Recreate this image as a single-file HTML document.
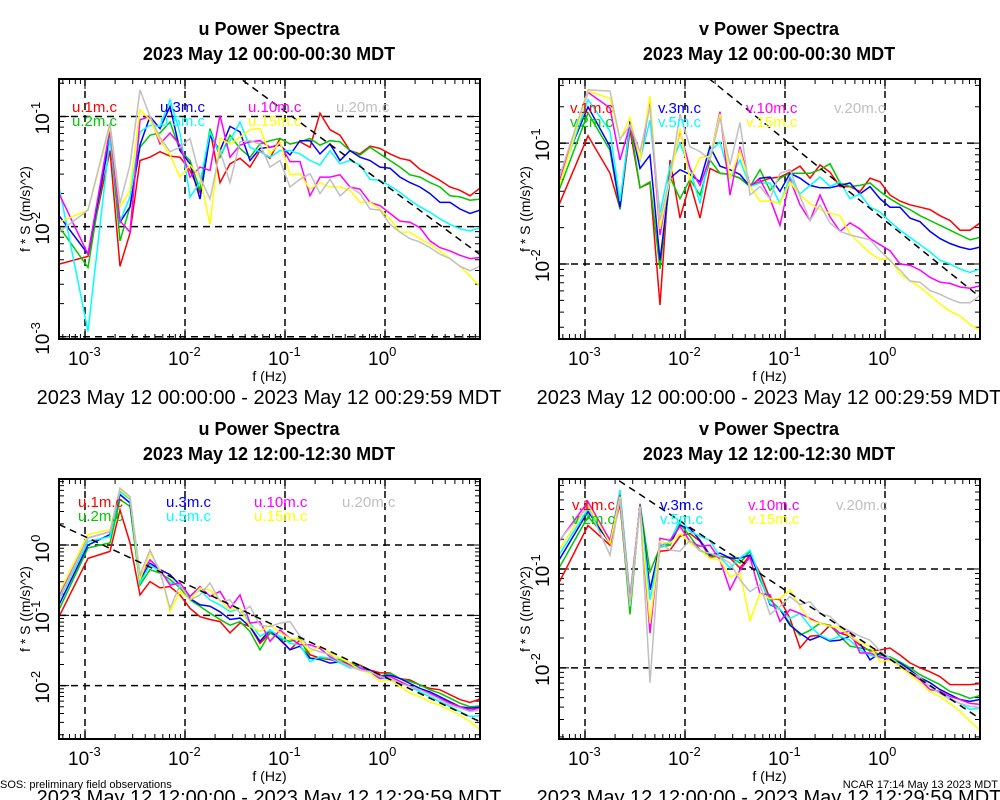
<!DOCTYPE html>
<html><head><meta charset="utf-8"><style>
html,body{margin:0;padding:0;background:#fff;}
svg{display:block;font-family:"Liberation Sans",sans-serif;}
</style></head><body>
<svg id="chart" width="1000" height="800" viewBox="0 0 1000 800" xmlns="http://www.w3.org/2000/svg">
<rect x="0" y="0" width="1000" height="800" fill="#fff"/>
</svg>
<script>
// log10 frequency (Hz) sample points shared by all panels
const logFreq = [-3.26,-2.97,-2.75,-2.65,-2.55,-2.45,-2.35,-2.25,-2.15,-2.05,-1.95,-1.85,-1.75,-1.65,-1.55,-1.45,-1.35,-1.25,-1.15,-1.05,-0.95,-0.85,-0.75,-0.65,-0.55,-0.45,-0.35,-0.25,-0.15,-0.05,0.05,0.15,0.25,0.35,0.45,0.55,0.65,0.75,0.85,0.95];
const seriesNamesU = ["u.1m.c","u.2m.c","u.3m.c","u.5m.c","u.10m.c","u.15m.c","u.20m.c"];
const seriesNamesV = ["v.1m.c","v.2m.c","v.3m.c","v.5m.c","v.10m.c","v.15m.c","v.20m.c"];
const xTickLabels = ["-3","-2","-1","0"];
// values are log10(f*S) in (m/s)^2
// Panel A: u 00:00-00:30
const uA1 = [-2.34,-2.27,-1.31,-2.36,-2.06,-1.40,-1.37,-1.32,-1.36,-1.37,-1.49,-1.69,-1.12,-1.60,-1.43,-1.38,-1.46,-1.31,-1.38,-1.20,-1.25,-1.23,-1.28,-0.97,-1.12,-1.17,-1.31,-1.34,-1.27,-1.29,-1.34,-1.38,-1.40,-1.48,-1.53,-1.58,-1.64,-1.67,-1.72,-1.65];
const uA2 = [-2.00,-2.37,-1.15,-2.13,-1.82,-1.28,-1.17,-1.15,-1.05,-1.31,-1.40,-1.67,-1.11,-1.37,-1.17,-1.29,-1.37,-1.25,-1.22,-1.20,-1.25,-1.23,-1.20,-1.26,-1.22,-1.23,-1.31,-1.35,-1.28,-1.34,-1.40,-1.46,-1.53,-1.55,-1.60,-1.64,-1.72,-1.73,-1.76,-1.75];
const uA3 = [-1.90,-2.25,-1.19,-1.96,-1.82,-1.26,-1.00,-1.11,-0.91,-1.31,-1.43,-1.75,-1.17,-1.31,-1.09,-1.14,-1.40,-1.29,-1.28,-1.26,-1.35,-1.22,-1.22,-1.34,-1.25,-1.40,-1.31,-1.37,-1.40,-1.46,-1.47,-1.55,-1.60,-1.64,-1.70,-1.78,-1.78,-1.84,-1.88,-1.85];
const uA5 = [-1.64,-2.95,-1.19,-1.95,-1.73,-1.14,-1.08,-1.09,-0.85,-1.15,-1.73,-1.60,-1.14,-1.34,-1.22,-1.05,-1.28,-1.32,-1.37,-1.31,-1.31,-1.34,-1.40,-1.44,-1.31,-1.43,-1.40,-1.44,-1.57,-1.58,-1.63,-1.69,-1.76,-1.82,-1.87,-1.93,-1.98,-2.02,-2.04,-2.01];
const uA10 = [-1.70,-2.25,-1.11,-1.95,-2.05,-1.03,-1.00,-1.25,-1.15,-1.26,-1.55,-1.46,-1.49,-0.99,-1.37,-1.26,-1.23,-1.22,-1.28,-1.25,-1.41,-1.41,-1.72,-1.55,-1.55,-1.53,-1.64,-1.66,-1.78,-1.81,-1.88,-1.95,-1.96,-2.01,-2.13,-2.19,-2.22,-2.26,-2.29,-2.28];
const uA15 = [-1.96,-1.85,-1.09,-1.82,-1.67,-0.94,-1.03,-1.22,-1.35,-1.55,-1.44,-1.55,-1.98,-1.20,-1.25,-1.19,-1.12,-1.11,-1.34,-1.23,-1.53,-1.52,-1.66,-1.60,-1.64,-1.64,-1.67,-1.78,-1.78,-1.84,-1.93,-2.05,-2.05,-2.11,-2.16,-2.22,-2.29,-2.36,-2.45,-2.54];
const uA20 = [-2.05,-1.85,-1.06,-1.79,-1.44,-0.76,-1.00,-1.19,-1.32,-1.28,-1.20,-1.55,-1.75,-1.31,-1.60,-1.23,-1.22,-1.25,-1.46,-1.40,-1.64,-1.57,-1.52,-1.70,-1.57,-1.72,-1.64,-1.70,-1.84,-1.85,-1.98,-2.05,-2.11,-2.14,-2.19,-2.25,-2.29,-2.36,-2.40,-2.36];
// Panel B: v 00:00-00:30
const vB1 = [-1.51,-0.94,-1.25,-1.54,-0.89,-1.37,-1.33,-2.34,-1.14,-1.62,-1.33,-1.62,-1.21,-1.25,-1.26,-1.29,-1.36,-1.32,-1.29,-1.28,-1.24,-1.19,-1.29,-1.18,-1.24,-1.36,-1.36,-1.40,-1.29,-1.32,-1.43,-1.48,-1.51,-1.53,-1.55,-1.60,-1.64,-1.72,-1.72,-1.66];
const vB2 = [-1.39,-0.75,-1.06,-1.55,-0.83,-1.37,-1.32,-2.04,-1.28,-1.46,-1.30,-1.43,-1.14,-1.25,-1.26,-1.29,-1.36,-1.22,-1.39,-1.29,-1.25,-1.25,-1.25,-1.22,-1.17,-1.33,-1.36,-1.35,-1.33,-1.40,-1.46,-1.51,-1.55,-1.60,-1.64,-1.68,-1.72,-1.76,-1.80,-1.78];
const vB3 = [-1.28,-0.70,-1.03,-1.53,-0.82,-1.21,-1.10,-1.97,-1.29,-1.22,-1.26,-1.32,-1.03,-1.19,-1.22,-1.26,-1.36,-1.29,-1.28,-1.40,-1.25,-1.29,-1.35,-1.37,-1.37,-1.35,-1.33,-1.42,-1.36,-1.46,-1.53,-1.53,-1.62,-1.65,-1.73,-1.79,-1.83,-1.86,-1.88,-1.86];
const vB5 = [-1.33,-0.64,-0.90,-1.48,-0.85,-1.14,-0.81,-1.58,-1.19,-1.00,-1.21,-1.50,-1.07,-0.99,-1.29,-1.14,-1.36,-1.33,-1.33,-1.50,-1.28,-1.42,-1.35,-1.28,-1.36,-1.32,-1.46,-1.42,-1.53,-1.57,-1.65,-1.72,-1.78,-1.84,-1.90,-1.97,-2.00,-2.04,-2.07,-2.04];
const vB10 = [-1.32,-0.58,-0.71,-1.14,-0.85,-1.14,-0.67,-1.76,-1.28,-0.90,-1.21,-1.35,-1.12,-0.74,-1.43,-1.03,-1.35,-1.30,-1.46,-1.68,-1.30,-1.51,-1.64,-1.43,-1.61,-1.73,-1.66,-1.71,-1.79,-1.84,-1.89,-2.00,-2.01,-2.05,-2.11,-2.15,-2.16,-2.19,-2.20,-2.18];
const vB15 = [-1.36,-0.57,-0.63,-0.97,-0.79,-1.14,-0.61,-1.71,-1.30,-0.88,-1.30,-1.12,-1.11,-0.76,-1.29,-1.06,-1.36,-1.48,-1.48,-1.50,-1.32,-1.43,-1.50,-1.55,-1.58,-1.60,-1.75,-1.83,-1.91,-1.96,-1.96,-2.08,-2.14,-2.19,-2.26,-2.33,-2.39,-2.43,-2.50,-2.55];
const vB20 = [-1.29,-0.56,-0.57,-0.97,-0.85,-1.07,-0.70,-1.64,-1.28,-0.76,-1.03,-1.07,-1.14,-0.79,-1.18,-0.83,-1.43,-1.36,-1.46,-1.25,-1.22,-1.44,-1.64,-1.51,-1.66,-1.73,-1.76,-1.78,-1.80,-1.89,-1.97,-2.05,-2.14,-2.15,-2.22,-2.25,-2.29,-2.32,-2.32,-2.26];
// Panel C: u 12:00-12:30
const uC1 = [-1.02,-0.19,-0.09,0.50,0.03,-0.71,-0.52,-0.61,-0.59,-0.71,-0.90,-1.02,-1.06,-1.09,-1.25,-1.11,-1.16,-1.40,-1.25,-1.33,-1.49,-1.35,-1.56,-1.61,-1.63,-1.66,-1.68,-1.71,-1.78,-1.82,-1.82,-1.90,-1.92,-1.99,-2.04,-2.06,-2.13,-2.20,-2.24,-2.19];
const uC2 = [-0.92,-0.04,0.03,0.65,0.55,-0.57,-0.35,-0.40,-0.49,-0.61,-0.78,-0.87,-0.97,-1.06,-1.14,-1.09,-1.23,-1.49,-1.25,-1.33,-1.37,-1.33,-1.61,-1.61,-1.61,-1.63,-1.68,-1.73,-1.80,-1.87,-1.82,-1.90,-1.94,-1.99,-2.06,-2.11,-2.18,-2.25,-2.30,-2.29];
const uC3 = [-0.85,0.00,0.15,0.72,0.60,-0.49,-0.26,-0.35,-0.42,-0.57,-0.76,-0.85,-0.87,-0.95,-1.06,-1.04,-1.16,-1.37,-1.21,-1.35,-1.49,-1.44,-1.61,-1.63,-1.68,-1.66,-1.71,-1.73,-1.78,-1.87,-1.85,-1.90,-1.97,-2.04,-2.09,-2.16,-2.23,-2.30,-2.32,-2.31];
const uC5 = [-0.78,0.05,0.12,0.76,0.65,-0.54,-0.28,-0.38,-0.54,-0.57,-0.73,-0.64,-0.78,-0.85,-0.95,-0.90,-1.11,-1.30,-1.21,-1.30,-1.40,-1.42,-1.66,-1.59,-1.61,-1.68,-1.75,-1.73,-1.82,-1.90,-1.90,-1.97,-2.01,-2.09,-2.16,-2.23,-2.30,-2.37,-2.44,-2.43];
const uC10 = [-0.73,0.10,0.19,0.79,0.67,-0.45,-0.21,-0.35,-0.57,-0.54,-0.73,-0.59,-0.73,-0.66,-0.90,-0.71,-1.11,-1.09,-1.37,-1.21,-1.33,-1.42,-1.42,-1.47,-1.59,-1.66,-1.71,-1.75,-1.80,-1.90,-1.87,-1.94,-2.01,-2.06,-2.11,-2.18,-2.25,-2.30,-2.35,-2.32];
const uC15 = [-0.68,0.15,0.22,0.79,0.67,-0.49,-0.11,-0.35,-0.95,-0.66,-0.78,-0.61,-0.64,-0.78,-0.92,-0.90,-1.16,-1.23,-1.14,-1.25,-1.33,-1.35,-1.52,-1.44,-1.54,-1.61,-1.68,-1.78,-1.82,-1.94,-1.92,-2.01,-2.11,-2.16,-2.23,-2.28,-2.35,-2.42,-2.51,-2.63];
const uC20 = [-0.76,0.10,0.19,0.81,0.69,-0.42,-0.07,-0.38,-0.90,-0.57,-0.78,-0.71,-0.54,-0.80,-0.78,-0.97,-0.87,-1.14,-1.16,-1.11,-1.09,-1.30,-1.47,-1.52,-1.56,-1.66,-1.73,-1.78,-1.80,-1.87,-1.90,-1.97,-2.01,-2.06,-2.13,-2.20,-2.28,-2.32,-2.37,-2.35];
// Panel D: v 12:00-12:30
const vD1 = [-1.14,-0.56,-0.76,-0.34,-1.41,-0.35,-1.21,-0.82,-0.81,-0.67,-0.64,-0.72,-0.88,-0.87,-0.89,-0.99,-0.86,-1.04,-1.30,-1.31,-1.50,-1.80,-1.68,-1.67,-1.57,-1.65,-1.68,-1.77,-1.83,-1.82,-1.80,-1.87,-1.95,-2.00,-2.04,-2.09,-2.17,-2.17,-2.17,-2.16];
const vD2 = [-0.99,-0.47,-0.72,-0.30,-1.46,-0.34,-1.03,-0.78,-0.76,-0.54,-0.67,-0.81,-0.86,-0.88,-0.88,-0.94,-0.82,-1.11,-1.31,-1.41,-1.55,-1.67,-1.62,-1.55,-1.57,-1.68,-1.78,-1.80,-1.82,-1.87,-1.89,-1.94,-2.00,-2.07,-2.12,-2.17,-2.24,-2.27,-2.31,-2.28];
const vD3 = [-0.91,-0.42,-0.74,-0.29,-1.35,-0.35,-1.21,-0.76,-0.74,-0.56,-0.59,-0.71,-0.86,-0.84,-0.89,-0.89,-0.86,-1.08,-1.36,-1.41,-1.57,-1.65,-1.72,-1.68,-1.73,-1.72,-1.68,-1.75,-1.92,-1.85,-1.92,-1.95,-2.02,-2.10,-2.15,-2.22,-2.27,-2.32,-2.34,-2.32];
const vD5 = [-0.86,-0.39,-0.72,-0.20,-1.28,-0.37,-1.31,-0.78,-0.72,-0.50,-0.62,-0.67,-0.71,-0.88,-0.99,-0.89,-0.81,-1.08,-1.35,-1.41,-1.50,-1.45,-1.58,-1.67,-1.72,-1.68,-1.72,-1.82,-1.87,-1.90,-1.90,-1.97,-2.04,-2.12,-2.19,-2.26,-2.31,-2.36,-2.42,-2.41];
const vD10 = [-0.72,-0.32,-0.71,-0.25,-1.31,-0.35,-1.65,-0.69,-0.71,-0.57,-0.72,-0.77,-0.76,-0.91,-1.21,-1.01,-0.88,-1.25,-1.26,-1.53,-1.41,-1.45,-1.50,-1.55,-1.58,-1.65,-1.63,-1.85,-1.85,-1.89,-1.92,-1.97,-2.05,-2.12,-2.22,-2.24,-2.29,-2.32,-2.36,-2.37];
const vD15 = [-0.81,-0.35,-0.74,-0.27,-1.35,-0.37,-1.55,-0.72,-0.74,-0.64,-0.74,-0.81,-0.89,-0.91,-1.08,-1.04,-1.52,-1.25,-1.30,-1.30,-1.21,-1.38,-1.52,-1.55,-1.58,-1.60,-1.68,-1.75,-1.78,-1.94,-1.92,-1.99,-2.07,-2.15,-2.24,-2.29,-2.36,-2.44,-2.54,-2.63];
const vD20 = [-0.71,-0.37,-0.86,-0.29,-1.38,-0.37,-2.15,-0.74,-0.81,-0.82,-0.71,-0.82,-0.84,-0.88,-0.94,-1.11,-1.23,-1.16,-1.46,-1.38,-1.28,-1.36,-1.33,-1.45,-1.48,-1.58,-1.63,-1.68,-1.72,-1.83,-1.90,-1.97,-2.04,-2.10,-2.19,-2.26,-2.32,-2.36,-2.39,-2.40];
// reference -2/3 slope line intercepts (log10 value at f = 1 Hz)
const refIntercepts = [-1.62,-1.64,-1.88,-1.88];
const refSlope = -2/3;

const NS = "http://www.w3.org/2000/svg";
const svg = document.getElementById("chart");
const colors = ["#ff0000","#00c800","#0000ff","#00ffff","#ff00ff","#ffff00","#c0c0c0"];
const xMin = -3.26, xMax = 0.95;
const panels = [
  {id:"u-early",x0:59,x1:480,y0:79,y1:339,ymin:-3.02,ymax:-0.66,cx:269,ty:35,title:"u Power Spectra",sub:"2023 May 12 00:00-00:30 MDT",range:"2023 May 12 00:00:00 - 2023 May 12 00:29:59 MDT",names:seriesNamesU,data:[uA1,uA2,uA3,uA5,uA10,uA15,uA20],lx:[72,160,248,336],ly:107},
  {id:"v-early",x0:559,x1:980,y0:79,y1:339,ymin:-2.62,ymax:-0.47,cx:769,ty:35,title:"v Power Spectra",sub:"2023 May 12 00:00-00:30 MDT",range:"2023 May 12 00:00:00 - 2023 May 12 00:29:59 MDT",names:seriesNamesV,data:[vB1,vB2,vB3,vB5,vB10,vB15,vB20],lx:[570,658,746,834],ly:108},
  {id:"u-noon",x0:59,x1:480,y0:479,y1:739,ymin:-2.76,ymax:0.94,cx:269,ty:435,title:"u Power Spectra",sub:"2023 May 12 12:00-12:30 MDT",range:"2023 May 12 12:00:00 - 2023 May 12 12:29:59 MDT",names:seriesNamesU,data:[uC1,uC2,uC3,uC5,uC10,uC15,uC20],lx:[78,166,254,342],ly:502},
  {id:"v-noon",x0:559,x1:980,y0:479,y1:739,ymin:-2.72,ymax:-0.09,cx:769,ty:435,title:"v Power Spectra",sub:"2023 May 12 12:00-12:30 MDT",range:"2023 May 12 12:00:00 - 2023 May 12 12:29:59 MDT",names:seriesNamesV,data:[vD1,vD2,vD3,vD5,vD10,vD15,vD20],lx:[572,660,748,836],ly:505}
];
function mk(tag, attrs, parent){
  const e = document.createElementNS(NS, tag);
  for (const k in attrs) e.setAttribute(k, attrs[k]);
  (parent||svg).appendChild(e);
  return e;
}
panels.forEach((p, pi) => {
  const sx = v => p.x0 + (v - xMin) / (xMax - xMin) * (p.x1 - p.x0);
  const sy = v => p.y1 - (v - p.ymin) / (p.ymax - p.ymin) * (p.y1 - p.y0);
  const g = mk("g", {});
  
  
  // titles
  const t1 = mk("text", {x:p.cx, y:p.ty, "text-anchor":"middle", "font-size":"18", "font-weight":"bold"}, g);
  t1.textContent = p.title;
  
  
  const t2 = mk("text", {x:p.cx, y:p.ty+25, "text-anchor":"middle", "font-size":"18", "font-weight":"bold"}, g);
  t2.textContent = p.sub;
  
  
  // clip
  const cp = mk("clipPath", {id:"clip"+pi}, g);
  mk("rect", {x:p.x0, y:p.y0, width:p.x1-p.x0, height:p.y1-p.y0}, cp);
  // minor ticks
  let tk = "";
  for (let d = -4; d <= 1; d++) for (let m = 1; m <= 9; m++) {
    const lv = d + Math.log10(m);
    if (lv > xMin && lv < xMax) { const x = sx(lv); const L = m===1?10:5; tk += `M${x},${p.y1}v${-L}M${x},${p.y0}v${L}`; }
    if (lv > p.ymin && lv < p.ymax) { const y = sy(lv); const L = m===1?10:5; tk += `M${p.x0},${y}h${L}M${p.x1},${y}h${-L}`; }
  }
  const ticks = mk("path", {d:tk, stroke:"#000", "stroke-width":"1", fill:"none"}, g);
  
  
  // grid + x labels
  xTickLabels.forEach(lbl => {
    const v = +lbl; const x = sx(v);
    const gl = mk("line", {x1:x, x2:x, y1:p.y0, y2:p.y1, stroke:"#000", "stroke-width":"1.5", "stroke-dasharray":"7,5"}, g);
    
    
    const tl = mk("text", {x:x-17, y:p.y1+26, "font-size":"19"}, g);
    
    
    tl.innerHTML = `10<tspan dy="-9" font-size="13">${lbl}</tspan>`;
  });
  for (let d = Math.ceil(p.ymin); d <= Math.floor(p.ymax); d++) {
    const y = sy(d);
    const gl = mk("line", {x1:p.x0, x2:p.x1, y1:y, y2:y, stroke:"#000", "stroke-width":"1.5", "stroke-dasharray":"7,5"}, g);
    
    
    const tl = mk("text", {x:0, y:0, "font-size":"19", transform:`translate(${p.x0-10},${y+18}) rotate(-90)`}, g);
    
    
    tl.innerHTML = `10<tspan dy="-9" font-size="13">${d}</tspan>`;
  }
  // series
  p.data.forEach((arr, si) => {
    const pts = arr.map((v, i) => `${sx(logFreq[i]).toFixed(1)},${sy(v).toFixed(1)}`).join(" ");
    const pl = mk("polyline", {points:pts, fill:"none", stroke:colors[si], "stroke-width":"1.5", "clip-path":`url(#clip${pi})`}, g);
    
    
  });
  // reference line
  const a = refIntercepts[pi];
  const rl = mk("line", {x1:sx(xMin), y1:sy(a + refSlope*xMin), x2:sx(xMax), y2:sy(a + refSlope*xMax), stroke:"#000", "stroke-width":"1.5", "stroke-dasharray":"7,5", "clip-path":`url(#clip${pi})`}, g);
  
  
  // legend
  p.names.forEach((n, si) => {
    const col = si < 2 ? 0 : si < 4 ? 1 : si < 6 ? 2 : 3;
    const row = (si === 1 || si === 3 || si === 5) ? 1 : 0;
    const lt = mk("text", {x:p.lx[col], y:p.ly+row*14+5, "font-size":"15", fill:colors[si]}, g);
    lt.textContent = n;
    
    
  });
  // frame
  const fr = mk("rect", {x:p.x0, y:p.y0, width:p.x1-p.x0, height:p.y1-p.y0, fill:"none", stroke:"#000", "stroke-width":"2"}, g);
  
  
  // axis titles
  const xt = mk("text", {x:(p.x0+p.x1)/2, y:p.y1+42, "text-anchor":"middle", "font-size":"14"}, g);
  xt.textContent = "f (Hz)";
  
  
  const yt = mk("text", {x:0, y:0, "text-anchor":"middle", "font-size":"14", transform:`translate(${p.x0-29},${(p.y0+p.y1)/2}) rotate(-90)`}, g);
  yt.textContent = "f * S ((m/s)^2)";
  
  
  const rt = mk("text", {x:p.x0+210, y:p.y1+65, "text-anchor":"middle", "font-size":"20"}, g);
  rt.textContent = p.range;
  
  
});
const f1 = mk("text", {x:0, y:788, "font-size":"11"});
f1.textContent = "SOS: preliminary field observations";


const f2 = mk("text", {x:998, y:788, "font-size":"11", "text-anchor":"end"});
f2.textContent = "NCAR 17:14 May 13 2023 MDT";


</script>
</body></html>
